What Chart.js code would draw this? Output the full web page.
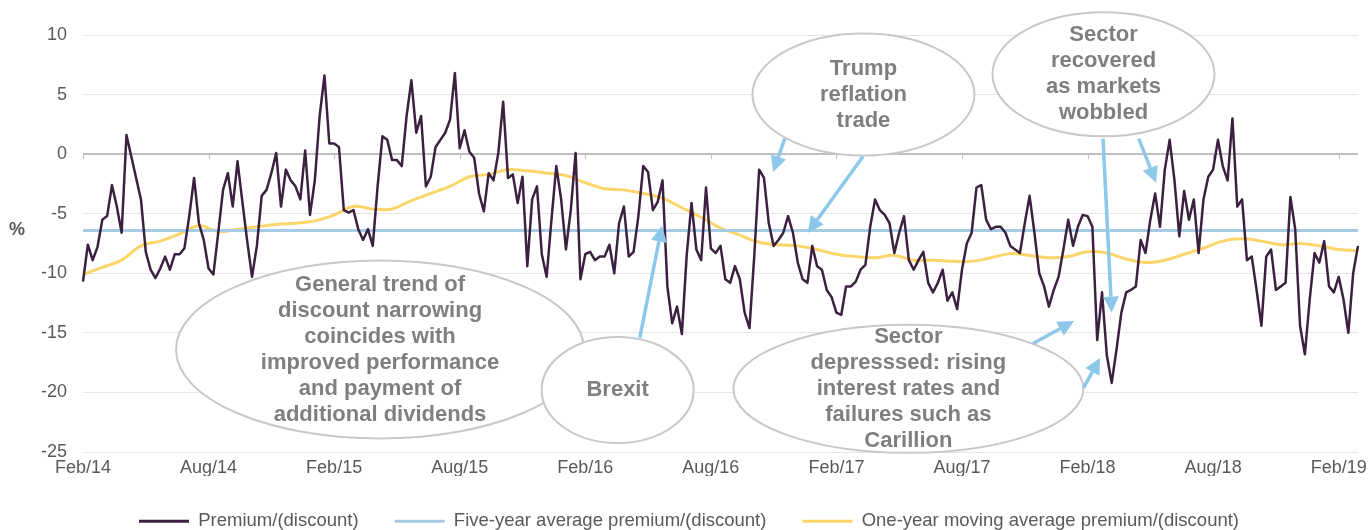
<!DOCTYPE html>
<html>
<head>
<meta charset="utf-8">
<title>Premium/(discount)</title>
<script src="https://cdn.jsdelivr.net/npm/chart.js@4.4.1/dist/chart.umd.min.js"></script>
<style>
  html, body { margin: 0; padding: 0; background: #fff; }
  #wrap { position: relative; width: 1369px; height: 530px; }
</style>
</head>
<body>
<div id="wrap"><canvas id="discountChart"></canvas></div>
<script>
// Weekly premium/(discount) to NAV (%), first week of Feb 2014 onwards
const premium = [
  -10.7, -7.6, -8.9, -7.8, -5.5, -5.2, -2.6, -4.4, -6.6, 1.6,
  -0.2, -2.0, -3.8, -8.2, -9.7, -10.4, -9.6, -8.6, -9.7, -8.4,
  -8.4, -7.9, -5.2, -2.0, -5.8, -7.2, -9.6, -10.1, -6.6, -3.0,
  -1.6, -4.4, -0.6, -4.0, -7.3, -10.3, -7.7, -3.5, -3.0, -1.6,
  0.1, -4.4, -1.3, -2.2, -2.7, -3.8, 0.3, -5.1, -2.2, 3.2,
  6.6, 0.9, 0.9, 0.6, -4.7, -4.9, -4.7, -6.3, -7.2, -6.3,
  -7.7, -2.7, 1.5, 1.2, -0.5, -0.5, -1.0, 3.2, 6.2, 1.8,
  3.2, -2.7, -1.9, 0.6, 1.2, 1.8, 2.9, 6.8, 0.5, 2.0,
  0.2, -0.3, -3.3, -4.8, -1.6, -2.2, 0.1, 4.4, -2.0, -1.7,
  -4.1, -1.9, -9.4, -3.8, -2.7, -8.4, -10.3, -5.5, -1.0, -3.8,
  -8.0, -4.7, 0.1, -10.5, -8.4, -8.2, -8.9, -8.6, -8.6, -7.6,
  -10.0, -5.8, -4.4, -8.6, -8.2, -5.2, -1.0, -1.5, -4.7, -4.0,
  -2.2, -11.1, -14.2, -12.8, -15.1, -8.5, -4.1, -8.0, -8.9, -2.8,
  -7.9, -8.3, -7.7, -10.5, -10.8, -9.4, -10.5, -13.3, -14.6, -8.5,
  -1.3, -2.0, -5.8, -7.7, -7.2, -6.6, -5.2, -6.6, -9.1, -10.5,
  -10.8, -7.7, -9.4, -9.7, -11.4, -12.0, -13.3, -13.5, -11.1, -11.1,
  -10.7, -9.7, -9.3, -6.1, -3.8, -4.7, -5.1, -5.8, -8.3, -6.6,
  -5.2, -8.9, -9.7, -8.9, -8.2, -10.8, -11.6, -10.8, -9.7, -12.3,
  -11.6, -13.0, -9.7, -7.5, -6.6, -2.8, -2.6, -5.5, -6.3, -6.1,
  -6.1, -6.6, -7.7, -8.0, -8.3, -5.8, -3.5, -6.6, -10.0, -11.1,
  -12.8, -11.4, -10.3, -8.0, -5.5, -7.7, -6.1, -5.1, -5.2, -6.1,
  -15.6, -11.6, -16.9, -19.2, -16.4, -13.3, -11.6, -11.4, -11.1, -7.2,
  -8.3, -5.5, -3.3, -6.1, -1.3, 1.2, -2.2, -6.9, -3.1, -5.5,
  -3.8, -8.3, -3.8, -1.9, -1.3, 1.2, -1.0, -2.2, 3.0, -4.4,
  -3.8, -8.9, -8.6, -11.4, -14.4, -8.6, -8.0, -11.4, -11.1, -10.8,
  -3.6, -6.3, -14.4, -16.8, -12.2, -8.3, -9.1, -7.3, -11.1, -11.6,
  -10.3, -12.2, -15.0, -10.0, -7.7
];

// One-year moving average, read every four weeks (week number, %)
const movingAvgWeeks = [
  0, 4, 8, 12, 16, 20, 24, 28, 32, 36, 40, 44, 48, 52, 56, 60, 64,
  68, 72, 76, 80, 84, 88, 92, 96, 100, 104, 108, 112, 116, 120, 124,
  128, 132, 136, 140, 144, 148, 152, 156, 160, 164, 168, 172, 176,
  180, 184, 188, 192, 196, 200, 204, 208, 212, 216, 220, 224, 228,
  232, 236, 240, 244, 248, 252, 256, 260, 264
];
const movingAvgValues = [
  -10.1, -9.5, -8.9, -7.7, -7.3, -6.7, -6.0, -6.5, -6.3, -6.1, -5.9, -5.8, -5.6, -5.1, -4.4, -4.6, -4.6,
  -3.9, -3.3, -2.7, -1.9, -1.7, -1.3, -1.4, -1.6, -1.8, -2.4, -2.9, -3.0, -3.3, -3.7, -4.5,
  -5.3, -6.2, -6.8, -7.4, -7.6, -7.7, -8.0, -8.4, -8.6, -8.7, -8.5, -8.9, -8.9,
  -9.0, -9.0, -8.7, -8.35, -8.5, -8.7, -8.6, -8.2, -8.3, -8.8, -9.1, -8.9, -8.4,
  -7.9, -7.3, -7.1, -7.3, -7.6, -7.5, -7.7, -8.0, -8.1
];

const fiveYearAverage = -6.4;

// Axis labels, one every 26 weeks
const tickLabels = [
  "Feb/14", "Aug/14", "Feb/15", "Aug/15", "Feb/16", "Aug/16",
  "Feb/17", "Aug/17", "Feb/18", "Aug/18", "Feb/19"
];
const weeksPerTick = 26;

// Callouts anchored on (week, %); radii in px
const callouts = [
  { week: 61.5, value: -16.4, rx: 204, ry: 89,
    lines: ["General trend of", "discount narrowing", "coincides with", "improved performance", "and payment of", "additional dividends"] },
  { week: 110.7, value: -19.8, rx: 76, ry: 53, lines: ["Brexit"] },
  { week: 161.6, value: 5.0, rx: 111, ry: 61, lines: ["Trump", "reflation", "trade"] },
  { week: 211.3, value: 6.7, rx: 111, ry: 62, lines: ["Sector", "recovered", "as markets", "wobbled"] },
  { week: 170.9, value: -19.7, rx: 175, ry: 64,
    lines: ["Sector", "depresssed: rising", "interest rates and", "failures such as", "Carillion"] }
];
const pointers = [
  { from: [115.3, -15.4], to: [119.9, -6.0] },
  { from: [145.3, 1.3], to: [142.9, -1.5] },
  { from: [161.5, -0.2], to: [150.1, -6.6] },
  { from: [211.2, 1.3], to: [213.0, -13.3] },
  { from: [218.6, 1.3], to: [222.2, -2.4] },
  { from: [196.7, -15.9], to: [205.2, -14.0] },
  { from: [207.2, -19.6], to: [210.6, -17.1] }
];

const textGrey = "#595959";
const colors = {
  premium: "#3b2040",
  fiveYear: "#a7cbe3",
  oneYear: "#fcd56a",
  arrow: "#8dc8ea",
  ellipse: "#c8c8c8",
  callout: "#7f7f7f",
};

// week-ending dates used as categories
const weeks = premium.map((_, i) => {
  const d = new Date(Date.UTC(2014, 1, 1 + 7 * i));
  return d.toISOString().slice(0, 10);
});

const movingAvg = weeks.map(() => null);
movingAvgWeeks.forEach((w, k) => { movingAvg[w] = movingAvgValues[k]; });

const fiveYearLine = weeks.map(() => fiveYearAverage);

// zero line tick marks and the "%" axis caption
const axisExtras = {
  id: "axisExtras",
  beforeDatasetsDraw(chart) {
    const { ctx, scales: { x, y } } = chart;
    const y0 = y.getPixelForValue(0);
    ctx.save();
    ctx.strokeStyle = "#bfbfbf";
    ctx.lineWidth = 1;
    for (let i = 0; i < weeks.length; i += weeksPerTick) {
      const px = Math.round(x.getPixelForValue(i)) + 0.5;
      ctx.beginPath();
      ctx.moveTo(px, y0);
      ctx.lineTo(px, y0 + 5);
      ctx.stroke();
    }
    ctx.restore();
  },
  afterDraw(chart) {
    const { ctx, scales: { y } } = chart;
    ctx.save();
    ctx.fillStyle = textGrey;
    ctx.font = "bold 18px 'Liberation Sans', Arial, sans-serif";
    ctx.textAlign = "center";
    ctx.textBaseline = "middle";
    ctx.fillText("%", 17, y.getPixelForValue(fiveYearAverage));
    ctx.restore();
  },
};

// ellipse callouts with arrows
const calloutPlugin = {
  id: "callouts",
  afterDatasetsDraw(chart) {
    const { ctx, scales: { x, y } } = chart;
    ctx.save();
    callouts.forEach((c) => {
      const cx = x.getPixelForValue(c.week);
      const cy = y.getPixelForValue(c.value);
      ctx.beginPath();
      ctx.ellipse(cx, cy, c.rx, c.ry, 0, 0, Math.PI * 2);
      ctx.fillStyle = "#ffffff";
      ctx.fill();
      ctx.lineWidth = 2;
      ctx.strokeStyle = colors.ellipse;
      ctx.stroke();

      ctx.fillStyle = colors.callout;
      ctx.font = "bold 22px 'Liberation Sans', Arial, sans-serif";
      ctx.textAlign = "center";
      ctx.textBaseline = "middle";
      const lh = 26;
      const top = cy - ((c.lines.length - 1) * lh) / 2;
      c.lines.forEach((t, k) => ctx.fillText(t, cx, top + k * lh));
    });

    ctx.strokeStyle = colors.arrow;
    ctx.fillStyle = colors.arrow;
    ctx.lineWidth = 3.5;
    pointers.forEach((p) => {
      const x1 = x.getPixelForValue(p.from[0]);
      const y1 = y.getPixelForValue(p.from[1]);
      const x2 = x.getPixelForValue(p.to[0]);
      const y2 = y.getPixelForValue(p.to[1]);
      const ang = Math.atan2(y2 - y1, x2 - x1);
      const head = 16;
      const half = 8;
      const bx = x2 - head * Math.cos(ang);
      const by = y2 - head * Math.sin(ang);
      ctx.beginPath();
      ctx.moveTo(x1, y1);
      ctx.lineTo(bx, by);
      ctx.stroke();
      ctx.beginPath();
      ctx.moveTo(x2, y2);
      ctx.lineTo(bx + half * Math.sin(ang), by - half * Math.cos(ang));
      ctx.lineTo(bx - half * Math.sin(ang), by + half * Math.cos(ang));
      ctx.closePath();
      ctx.fill();
    });
    ctx.restore();
  },
};

Chart.defaults.font.family = "'Liberation Sans', Arial, sans-serif";
Chart.defaults.font.size = 18;
Chart.defaults.color = textGrey;

new Chart(document.getElementById("discountChart"), {
  type: "line",
  data: {
    labels: weeks,
    datasets: [
      {
        label: "Premium/(discount)",
        data: premium,
        borderColor: colors.premium,
        backgroundColor: colors.premium,
        borderWidth: 2.5,
        borderJoinStyle: "round",
        pointRadius: 0,
        tension: 0,
      },
      {
        label: "Five-year average premium/(discount)",
        data: fiveYearLine,
        borderColor: colors.fiveYear,
        backgroundColor: colors.fiveYear,
        borderWidth: 3,
        pointRadius: 0,
      },
      {
        label: "One-year moving average premium/(discount)",
        data: movingAvg,
        borderColor: colors.oneYear,
        backgroundColor: colors.oneYear,
        borderWidth: 3,
        pointRadius: 0,
        tension: 0.4,
        spanGaps: true,
      },
    ],
  },
  options: {
    responsive: true,
    maintainAspectRatio: false,
    animation: false,
    layout: {
      padding: { top: 35, right: 11, bottom: 0, left: 20 },
    },
    plugins: {
      tooltip: { enabled: false },
      legend: {
        position: "bottom",
        maxHeight: 54,
        labels: {
          boxWidth: 50,
          boxHeight: 3,
          padding: 36,
          color: textGrey,
          font: { size: 18.5 },
          generateLabels(chart) {
            return Chart.defaults.plugins.legend.labels
              .generateLabels(chart)
              .map((item) => ({ ...item, fillStyle: item.strokeStyle, lineWidth: 0 }));
          },
        },
      },
    },
    scales: {
      x: {
        grid: { display: false, drawTicks: false },
        border: { display: false },
        afterFit: (scale) => { scale.height = 24; },
        ticks: {
          autoSkip: false,
          maxRotation: 0,
          minRotation: 0,
          padding: 5,
          color: textGrey,
          callback: (value, index) =>
            index % weeksPerTick === 0 ? tickLabels[index / weeksPerTick] : "",
        },
      },
      y: {
        min: -25,
        max: 10,
        afterFit: (scale) => { scale.width = 63; },
        border: { display: false },
        grid: {
          drawTicks: false,
          color: (c) => (c.tick.value === 0 ? "#bfbfbf" : "#e6e6e6"),
          lineWidth: (c) => (c.tick.value === 0 ? 2 : 1),
        },
        ticks: {
          stepSize: 5,
          padding: 16,
          color: textGrey,
        },
      },
    },
  },
  plugins: [axisExtras, calloutPlugin],
});
</script>
</body>
</html>
